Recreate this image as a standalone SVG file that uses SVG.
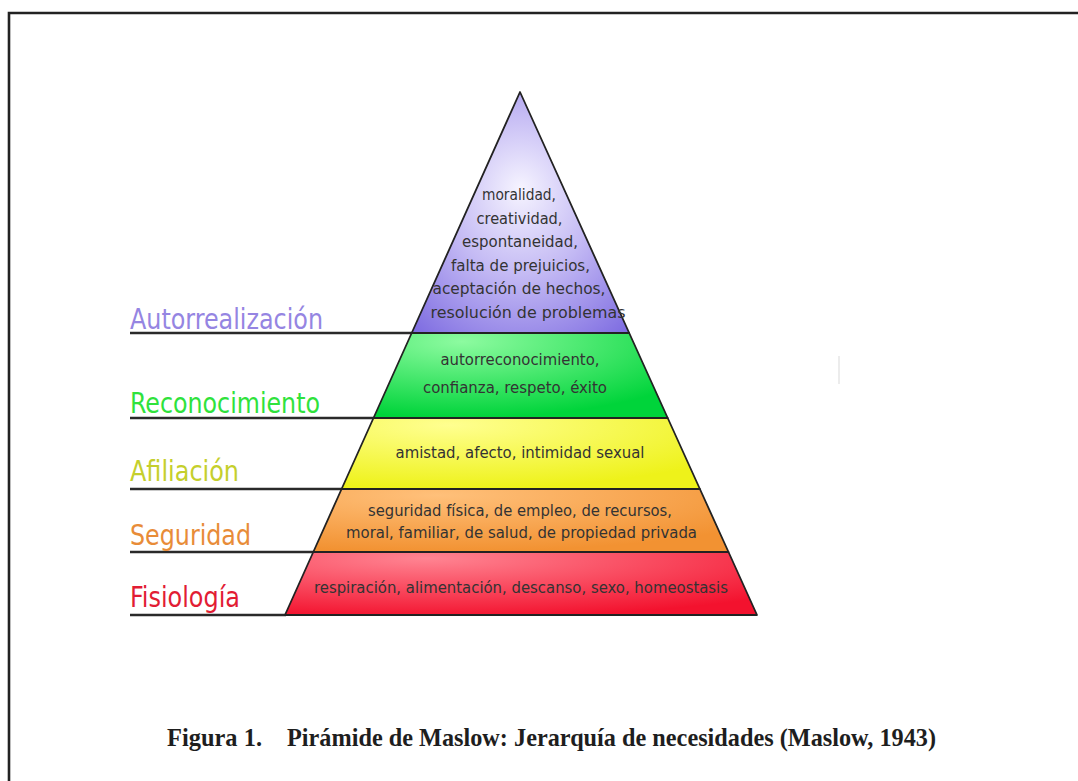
<svg xmlns="http://www.w3.org/2000/svg" width="1078" height="781" viewBox="0 0 1078 781">
<style>
.lbl{font-family:"DejaVu Sans Condensed","DejaVu Sans","Liberation Sans",sans-serif;font-size:29px}
.inner{font-family:"DejaVu Sans Condensed","DejaVu Sans","Liberation Sans",sans-serif;font-size:16.5px;fill:#333333;text-anchor:middle}
.layer{stroke:#222;stroke-width:1.8;stroke-linejoin:round}
.rule{stroke:#2a2a2a;stroke-width:2.6;fill:none}
.cap{font-family:"Liberation Serif","Times New Roman",serif;font-weight:bold;font-size:26px;fill:#1e1e1e}
</style>
<defs>
<radialGradient id="gP" cx="0.5" cy="0.45" r="0.75" fx="0.5" fy="0.4">
<stop offset="0" stop-color="#f6f4ff"/><stop offset="0.45" stop-color="#c4baf4"/><stop offset="1" stop-color="#7a68e0"/>
</radialGradient>
<radialGradient id="gG" cx="0.3" cy="0.1" r="0.9">
<stop offset="0" stop-color="#8dfba0"/><stop offset="1" stop-color="#00d43a"/>
</radialGradient>
<radialGradient id="gY" cx="0.3" cy="0.1" r="0.9">
<stop offset="0" stop-color="#ffff90"/><stop offset="1" stop-color="#eef21a"/>
</radialGradient>
<radialGradient id="gO" cx="0.3" cy="0.1" r="0.9">
<stop offset="0" stop-color="#ffc07a"/><stop offset="1" stop-color="#f29232"/>
</radialGradient>
<radialGradient id="gR" cx="0.3" cy="0.1" r="0.95">
<stop offset="0" stop-color="#ff8492"/><stop offset="1" stop-color="#f3122e"/>
</radialGradient>
</defs>
<rect width="1078" height="781" fill="#ffffff"/>
<path d="M9,781 V13 H1078" fill="none" stroke="#222" stroke-width="2.6"/>
<line x1="839" y1="356" x2="839" y2="384" stroke="#e6e6e6" stroke-width="1.5"/>

<g id="connectors">
<line class="rule" x1="130" y1="333" x2="412" y2="333"/>
<line class="rule" x1="130" y1="418" x2="374" y2="418"/>
<line class="rule" x1="130" y1="489" x2="342" y2="489"/>
<line class="rule" x1="130" y1="552" x2="314" y2="552"/>
<line class="rule" x1="130" y1="615" x2="286" y2="615"/>
</g>

<g id="autorrealizacion">
<polygon class="layer" points="520,92 629.2,333 411.7,333" fill="url(#gP)"/>
<text class="inner" x="519" y="200" textLength="74" lengthAdjust="spacingAndGlyphs">moralidad,</text>
<text class="inner" x="519.5" y="223.6" textLength="86" lengthAdjust="spacingAndGlyphs">creatividad,</text>
<text class="inner" x="520" y="247.2" textLength="116" lengthAdjust="spacingAndGlyphs">espontaneidad,</text>
<text class="inner" x="520.5" y="270.8" textLength="139" lengthAdjust="spacingAndGlyphs">falta de prejuicios,</text>
<text class="inner" x="519" y="294.4" textLength="173" lengthAdjust="spacingAndGlyphs">aceptación de hechos,</text>
<text class="inner" x="528" y="318" textLength="195" lengthAdjust="spacingAndGlyphs">resolución de problemas</text>
<text class="lbl" x="130" y="329" fill="#9585e2" textLength="193" lengthAdjust="spacingAndGlyphs">Autorrealización</text>
</g>

<g id="reconocimiento">
<polygon class="layer" points="411.7,333 629.2,333 667.7,418 373.5,418" fill="url(#gG)"/>
<text class="inner" x="520" y="365" textLength="159" lengthAdjust="spacingAndGlyphs">autorreconocimiento,</text>
<text class="inner" x="515" y="393" textLength="184" lengthAdjust="spacingAndGlyphs">confianza, respeto, éxito</text>
<text class="lbl" x="130" y="413" fill="#2fe23c" textLength="190" lengthAdjust="spacingAndGlyphs">Reconocimiento</text>
</g>

<g id="afiliacion">
<polygon class="layer" points="373.5,418 667.7,418 699.9,489 341.6,489" fill="url(#gY)"/>
<text class="inner" x="520" y="458" textLength="249" lengthAdjust="spacingAndGlyphs">amistad, afecto, intimidad sexual</text>
<text class="lbl" x="130" y="481" fill="#c5cf2c" textLength="109" lengthAdjust="spacingAndGlyphs">Afiliación</text>
</g>

<g id="seguridad">
<polygon class="layer" points="341.6,489 699.9,489 728.5,552 313.3,552" fill="url(#gO)"/>
<text class="inner" x="520" y="516" textLength="304" lengthAdjust="spacingAndGlyphs">seguridad física, de empleo, de recursos,</text>
<text class="inner" x="521.5" y="538" textLength="351" lengthAdjust="spacingAndGlyphs">moral, familiar, de salud, de propiedad privada</text>
<text class="lbl" x="130" y="545" fill="#e88c38" textLength="121" lengthAdjust="spacingAndGlyphs">Seguridad</text>
</g>

<g id="fisiologia">
<polygon class="layer" points="313.3,552 728.5,552 757,615 285,615" fill="url(#gR)"/>
<text class="inner" x="521" y="593" textLength="414" lengthAdjust="spacingAndGlyphs">respiración, alimentación, descanso, sexo, homeostasis</text>
<text class="lbl" x="130" y="607" fill="#e21c34" textLength="110" lengthAdjust="spacingAndGlyphs">Fisiología</text>
</g>

<g id="caption">
<text class="cap" x="167" y="746" textLength="95" lengthAdjust="spacingAndGlyphs">Figura 1.</text>
<text class="cap" x="287" y="746" textLength="649" lengthAdjust="spacingAndGlyphs">Pirámide de Maslow: Jerarquía de necesidades (Maslow, 1943)</text>
</g>
</svg>
